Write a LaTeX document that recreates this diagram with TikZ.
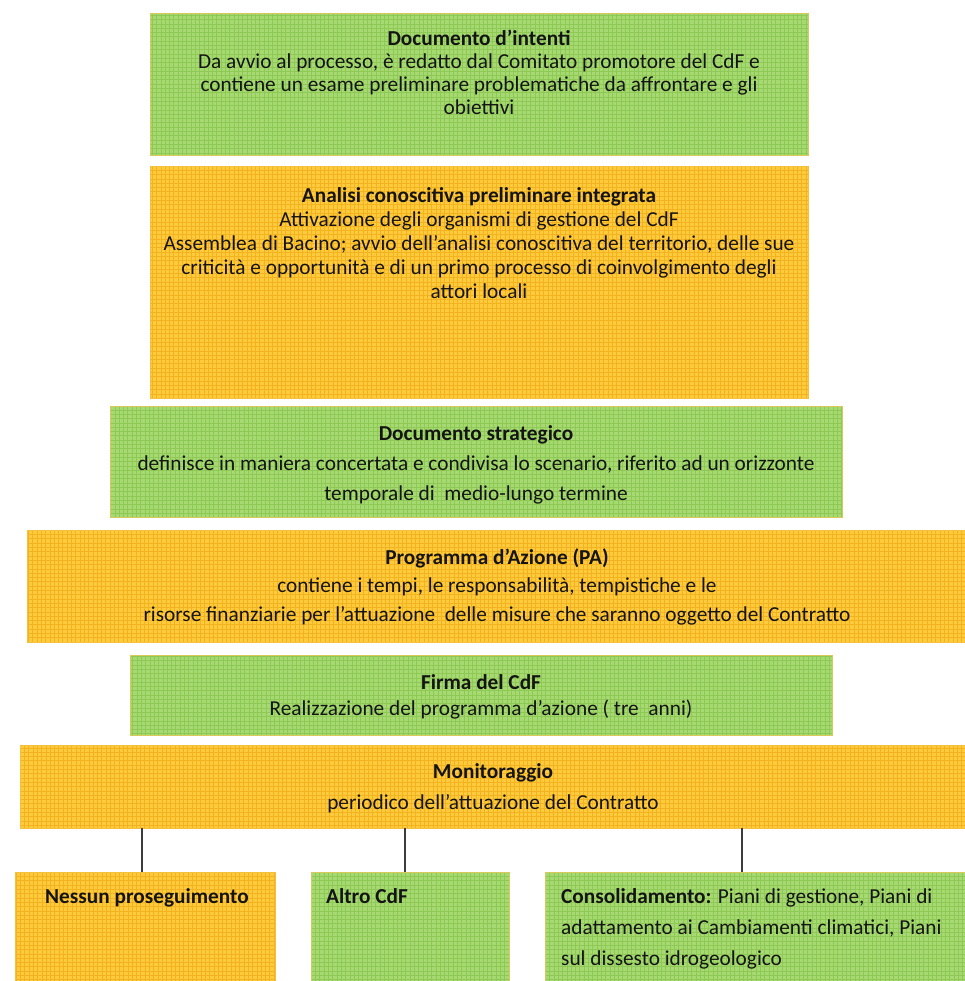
\documentclass[tikz,border=0pt]{standalone}
\usepackage{fontspec}
\setmainfont{Carlito}
\definecolor{boxgreen}{HTML}{A6D971}
\definecolor{gridgreen}{HTML}{8EC955}
\definecolor{edgegreen}{HTML}{D9C85A}
\definecolor{boxorange}{HTML}{FFCB3D}
\definecolor{gridorange}{HTML}{F3B21F}
\definecolor{edgeorange}{HTML}{F5C040}
\definecolor{ink}{HTML}{141414}
\definecolor{linkgray}{HTML}{3C3C3C}
\tikzset{
  panel/.style={rectangle, inner sep=0pt, outer sep=0pt, anchor=north west, line width=0.8pt},
  greenpanel/.style={panel, fill=boxgreen, draw=edgegreen,
    path picture={\draw[gridgreen, line width=0.55pt]
      (path picture bounding box.south west) grid[step=4.3pt]
      (path picture bounding box.north east);}},
  orangepanel/.style={panel, fill=boxorange, draw=edgeorange,
    path picture={\draw[gridorange, line width=0.55pt]
      (path picture bounding box.south west) grid[step=4.3pt]
      (path picture bounding box.north east);}},
  label/.style={inner sep=0pt, align=center, anchor=north, text=ink,
    font=\fontsize{21.3}{#1}\selectfont},
  leftlabel/.style={inner sep=0pt, align=left, anchor=north west, text=ink,
    font=\fontsize{21.3}{#1}\selectfont},
  link/.style={draw=linkgray, line width=1.4pt},
}
\begin{document}
\begin{tikzpicture}[x=1pt, y=1pt]
  \useasboundingbox (0,0) rectangle (964,-981);

  % stage panels, top to bottom
  \node[greenpanel, minimum width=658pt, minimum height=142pt] (intenti) at (150,-13) {};
  \node[orangepanel, minimum width=658pt, minimum height=232pt] (analisi) at (150,-166) {};
  \node[greenpanel, minimum width=732pt, minimum height=111pt] (strategico) at (110,-406) {};
  \node[orangepanel, minimum width=940pt, minimum height=112pt] (programma) at (27,-530) {};
  \node[greenpanel, minimum width=702pt, minimum height=80pt] (firma) at (130,-655) {};
  \node[orangepanel, minimum width=946pt, minimum height=83pt] (monitor) at (20,-745) {};

  % outcomes
  \node[orangepanel, minimum width=260pt, minimum height=112pt] (nessun) at (15,-872) {};
  \node[greenpanel, minimum width=198pt, minimum height=112pt] (altro) at (311,-872) {};
  \node[greenpanel, minimum width=422pt, minimum height=112pt] (consol) at (545,-872) {};

  % texts
  \node[label=23] (tintenti) at ([yshift=-17pt]intenti.north)
    {\textbf{Documento d’intenti}\\
     Da avvio al processo, è redatto dal Comitato promotore del CdF e\\
     contiene un esame preliminare problematiche da affrontare e gli\\
     obiettivi};
  \node[label=24] (tanalisi) at ([yshift=-21pt]analisi.north)
    {\textbf{Analisi conoscitiva preliminare integrata}\\
     Attivazione degli organismi di gestione del CdF\\
     Assemblea di Bacino; avvio dell’analisi conoscitiva del territorio, delle sue\\
     criticità e opportunità e di un primo processo di coinvolgimento degli\\
     attori locali};
  \node[label=30] (tstrategico) at ([yshift=-19pt]strategico.north)
    {\textbf{Documento strategico}\\
     definisce in maniera concertata e condivisa lo scenario, riferito ad un orizzonte\\
     temporale di\ \ medio-lungo termine};
  \node[label=28.5] (tprogramma) at ([yshift=-18pt]programma.north)
    {\textbf{Programma d’Azione (PA)}\\
     contiene i tempi, le responsabilità, tempistiche e le\\
     risorse finanziarie per l’attuazione\ \ delle misure che saranno oggetto del Contratto};
  \node[label=26] (tfirma) at ([yshift=-19pt]firma.north)
    {\textbf{Firma del CdF}\\
     Realizzazione del programma d’azione ( tre\ \ anni)};
  \node[label=31] (tmonitor) at ([yshift=-18pt]monitor.north)
    {\textbf{Monitoraggio}\\
     periodico dell’attuazione del Contratto};
  \node[leftlabel=31] (tnessun) at ([xshift=30pt, yshift=-16pt]nessun.north west)
    {\textbf{Nessun proseguimento}};
  \node[leftlabel=31] (taltro) at ([xshift=15pt, yshift=-16pt]altro.north west)
    {\textbf{Altro CdF}};
  \node[leftlabel=31] (tconsol) at ([xshift=16pt, yshift=-16pt]consol.north west)
    {\textbf{Consolidamento:} Piani di gestione, Piani di\\
     adattamento ai Cambiamenti climatici, Piani\\
     sul dissesto idrogeologico};

  % connectors from monitoring to the outcomes
  \draw[link] (nessun.north -| 142,0) -- (monitor.south -| 142,0);
  \draw[link] (altro.north -| 405,0) -- (monitor.south -| 405,0);
  \draw[link] (consol.north -| 742,0) -- (monitor.south -| 742,0);
\end{tikzpicture}
\end{document}
